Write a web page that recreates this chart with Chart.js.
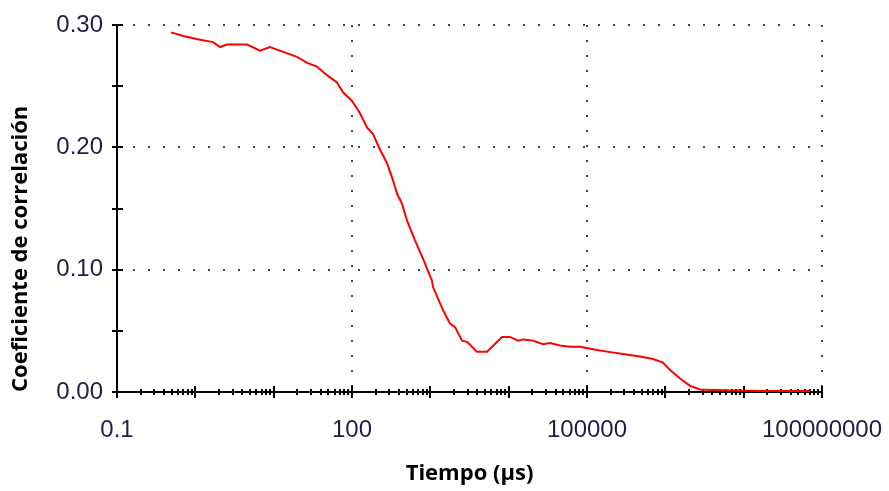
<!DOCTYPE html>
<html>
<head>
<meta charset="utf-8">
<script src="https://cdn.jsdelivr.net/npm/chart.js@4.4.1/dist/chart.umd.min.js"></script>
<style>
  html, body { margin: 0; padding: 0; background: #fff; }
  #wrap { width: 889px; height: 491px; }
</style>
</head>
<body>
<div id="wrap"><canvas id="chart" width="889" height="491"></canvas></div>
<script>
/* Correlation coefficient vs. delay time (log axis) */

const timeUs = [0.49, 0.70, 1.15, 1.68, 2.07, 2.54, 4.57, 6.70, 8.97, 13.2, 19.9, 26.7, 35.7, 48.0, 64.4, 76.7,
  100, 126, 156, 185, 228, 280, 334, 376, 434, 504, 637, 805, 1050, 1080, 1450, 1780, 2070, 2540, 2940, 3940,
  5300, 8220, 10400, 13200, 15200, 20500, 27400, 33700, 45200, 60700, 81500, 119000, 180000, 288000, 475000,
  697000, 933000, 1150000, 1540000, 2070000, 2770000, 4060000, 16200000, 70800000];

const correlation = [0.294, 0.291, 0.288, 0.286, 0.282, 0.284, 0.284, 0.279, 0.282, 0.278, 0.274, 0.269, 0.266,
  0.259, 0.253, 0.245, 0.238, 0.228, 0.216, 0.211, 0.198, 0.187, 0.173, 0.162, 0.154, 0.140, 0.124, 0.109,
  0.091, 0.086, 0.067, 0.056, 0.053, 0.042, 0.041, 0.033, 0.033, 0.045, 0.045, 0.042, 0.043, 0.042, 0.039,
  0.040, 0.038, 0.037, 0.037, 0.035, 0.033, 0.031, 0.029, 0.027, 0.024, 0.018, 0.011, 0.005, 0.002, 0.0016,
  0.0008, 0.0008];

const xLabelValues = [0.1, 100, 100000, 100000000];
const xTickLabels  = ['0.1', '100', '100000', '100000000'];
const yLabelValues = [0, 0.1, 0.2, 0.3];

const TICK_FONT = { family: "'Liberation Sans', Arial, sans-serif", size: 24 };
const TITLE_FONT = { family: "'Open Sans', 'Noto Sans', sans-serif", size: 22, weight: 'bold' };
const TICK_COLOR = '#221c48';
const DOT_COLOR = '#444';

const sameLog = (a, b) => Math.abs(Math.log10(a) - Math.log10(b)) < 1e-6;
const sameLin = (a, b) => Math.abs(a - b) < 1e-6;

// 1..9 x 10^n for every decade of the axis
function decadeTicks(scale) {
  const ticks = [];
  const lo = Math.round(Math.log10(scale.min));
  const hi = Math.round(Math.log10(scale.max));
  for (let e = lo; e < hi; e++) {
    for (let m = 1; m < 10; m++) ticks.push({ value: m * Math.pow(10, e) });
  }
  ticks.push({ value: Math.pow(10, hi) });
  scale.ticks = ticks;
}

// tick marks that cross the axis lines
const crossTicks = {
  id: 'crossTicks',
  beforeDatasetsDraw(chart) {
    const { ctx, chartArea, scales: { x, y } } = chart;
    ctx.save();
    ctx.strokeStyle = '#000';
    ctx.lineWidth = 2;
    ctx.beginPath();
    x.ticks.forEach(t => {
      const px = Math.round(x.getPixelForValue(t.value));
      const major = Math.abs(Math.log10(t.value) - Math.round(Math.log10(t.value))) < 1e-6;
      const len = major ? 6 : 3;
      ctx.moveTo(px, chartArea.bottom - len);
      ctx.lineTo(px, chartArea.bottom + len);
    });
    y.ticks.forEach(t => {
      const py = Math.round(y.getPixelForValue(t.value));
      ctx.moveTo(chartArea.left - 5, py);
      ctx.lineTo(chartArea.left + 6, py);
    });
    ctx.stroke();
    ctx.restore();
  }
};

new Chart(document.getElementById('chart'), {
  type: 'scatter',
  data: {
    datasets: [{
      data: timeUs.map((t, i) => ({ x: t, y: correlation[i] })),
      showLine: true,
      borderColor: '#ff0000',
      borderWidth: 2,
      pointRadius: 0,
      tension: 0
    }]
  },
  options: {
    responsive: false,
    animation: false,
    layout: { padding: { top: 25, right: 67, left: 0, bottom: 0 } },
    plugins: { legend: { display: false }, tooltip: { enabled: false } },
    scales: {
      x: {
        type: 'logarithmic',
        min: 0.1,
        max: 100000000,
        afterBuildTicks: decadeTicks,
        afterFit: s => { s.height = 99; s.paddingLeft = 0; s.paddingRight = 0; },
        ticks: {
          autoSkip: false,
          maxRotation: 0,
          padding: 24,
          color: TICK_COLOR,
          font: TICK_FONT,
          callback: v => {
            const i = xLabelValues.findIndex(t => sameLog(t, v));
            return i >= 0 ? xTickLabels[i] : '';
          }
        },
        grid: {
          drawTicks: false,
          lineWidth: 2,
          color: c => (c.tick && c.tick.value > 0.1 && xLabelValues.some(t => sameLog(t, c.tick.value))) ? DOT_COLOR : 'rgba(0,0,0,0)'
        },
        border: { display: true, color: '#000', width: 2, dash: [2, 13] },
        title: { display: true, text: 'Tiempo (µs)', color: '#000', font: TITLE_FONT, padding: { bottom: 4 } }
      },
      y: {
        min: 0,
        max: 0.3,
        afterFit: s => { s.width = 117; s.paddingTop = 0; s.paddingBottom = 0; },
        ticks: {
          stepSize: 0.05,
          padding: 14,
          color: TICK_COLOR,
          font: TICK_FONT,
          callback: v => yLabelValues.some(t => sameLin(t, v)) ? v.toFixed(2) : ''
        },
        grid: {
          drawTicks: false,
          lineWidth: 2,
          color: c => (c.tick && c.tick.value > 0.01 && yLabelValues.some(t => sameLin(t, c.tick.value))) ? DOT_COLOR : 'rgba(0,0,0,0)'
        },
        border: { display: true, color: '#000', width: 2, dash: [2, 13] },
        title: { display: true, text: 'Coeficiente de correlación', align: 'start', color: '#000', font: TITLE_FONT, padding: { top: 8 } }
      }
    }
  },
  plugins: [crossTicks]
});
</script>
</body>
</html>
